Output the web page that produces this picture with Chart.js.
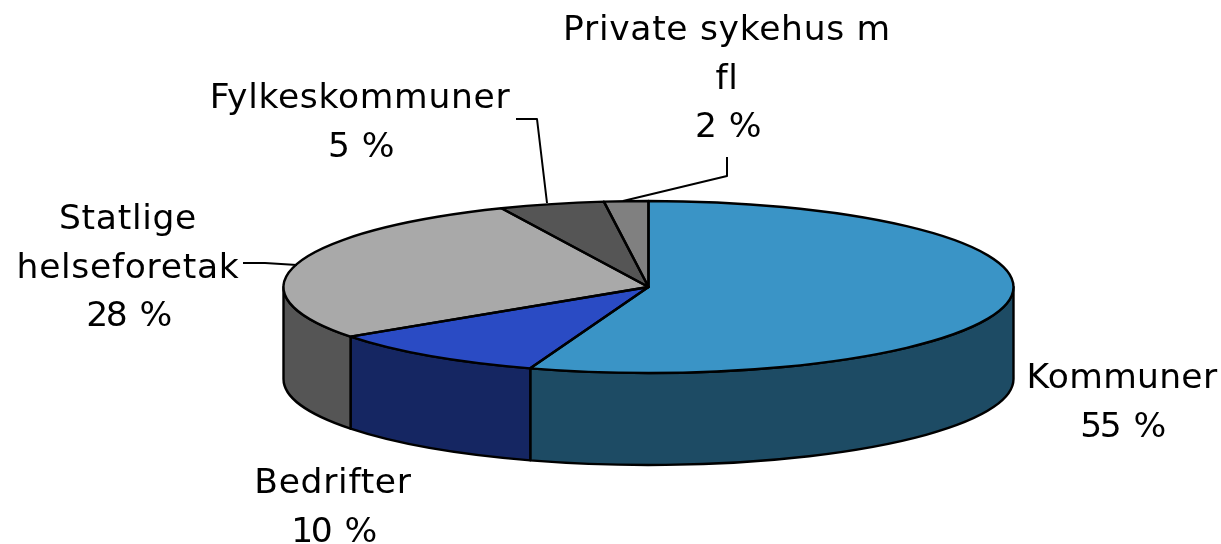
<!DOCTYPE html>
<html><head><meta charset="utf-8">
<style>html,body{margin:0;padding:0;background:#fff}canvas{display:block}</style>
<script src="https://cdn.jsdelivr.net/npm/chart.js@4"></script>
</head><body><canvas id="c" width="1221" height="544"></canvas>
<script>
const categories = ["Kommuner","Bedrifter","Statlige helseforetak","Fylkeskommuner","Private sykehus m fl"];
const values = [55.25,9.95,28.2,4.65,1.95];
const topColors = ["#3A94C6","#2A4BC4","#A9A9A9","#555555","#808080"];
const wallColors = ["#1D4B64","#152662","#555555","#2B2B2B","#404040"];
const labelLines = [["Kommuner"],["Bedrifter"],["Statlige","helseforetak"],["Fylkeskommuner"],["Private sykehus m","fl"]];

const CX=648.5, CY=287, RX=365, RY=86, DEPTH=92;
const labelPlace=[[1122,388],[333,493],[128,229],[360,108],[727,40]];
const LINE_H=48.5;
const leaders=[null,null,[[243,263],[265,263],[297,265]],[[516,119],[537,119],[547,203]],[[727,157],[727,176],[623,201]]];

const pie3d={
 id:'pie3d',
 beforeDatasetsDraw(chart){
  const ctx=chart.ctx, arcs=chart.getDatasetMeta(0).data;
  ctx.save();
  ctx.lineWidth=2.4; ctx.strokeStyle='#000'; ctx.lineJoin='round';
  arcs.forEach((a,i)=>{
    const s=Math.max(a.startAngle,0), e=Math.min(a.endAngle,Math.PI);
    if(e<=s) return;
    ctx.beginPath();
    ctx.ellipse(CX,CY,RX,RY,0,s,e);
    ctx.ellipse(CX,CY+DEPTH,RX,RY,0,e,s,true);
    ctx.closePath();
    ctx.fillStyle=wallColors[i];
    ctx.fill(); ctx.stroke();
  });
  ctx.restore();
  const a0=arcs[0];
  ctx.save();
  ctx.translate(CX,CY);
  ctx.scale(RX/a0.outerRadius,RY/a0.outerRadius);
  ctx.translate(-a0.x,-a0.y);
 },
 afterDatasetsDraw(chart){
  const ctx=chart.ctx, arcs=chart.getDatasetMeta(0).data;
  ctx.restore();
  ctx.save();
  ctx.lineWidth=2.4; ctx.strokeStyle='#000'; ctx.lineJoin='round';
  arcs.forEach(a=>{
    ctx.beginPath();
    ctx.moveTo(CX,CY);
    ctx.ellipse(CX,CY,RX,RY,0,a.startAngle,a.endAngle);
    ctx.closePath();
    ctx.stroke();
  });
  ctx.lineWidth=2;
  leaders.forEach(l=>{
    if(!l) return;
    ctx.beginPath();
    l.forEach((p,j)=>j?ctx.lineTo(p[0],p[1]):ctx.moveTo(p[0],p[1]));
    ctx.stroke();
  });
  ctx.fillStyle='#000';
  ctx.font='34.5px "DejaVu Sans"';
  ctx.textAlign='center'; ctx.textBaseline='alphabetic';
  categories.forEach((c,i)=>{
    ctx.wordSpacing='0px';
    labelLines[i].forEach((t,k)=>{
      ctx.letterSpacing = t==='Kommuner' ? '0.3px' : '0.7px';
      ctx.fillText(t,labelPlace[i][0],labelPlace[i][1]+k*LINE_H);
    });
    ctx.letterSpacing='-2.5px';
    ctx.wordSpacing='6px';
    ctx.fillText(Math.round(values[i])+' %',labelPlace[i][0],labelPlace[i][1]+labelLines[i].length*LINE_H);
  });
  ctx.restore();
 }
};

new Chart(document.getElementById('c'),{
 type:'pie',
 data:{labels:categories,datasets:[{data:values,backgroundColor:topColors,borderWidth:0,hoverOffset:0}]},
 options:{responsive:false,animation:false,layout:{padding:0},
  plugins:{legend:{display:false},tooltip:{enabled:false}}},
 plugins:[pie3d]
});
</script></body></html>
